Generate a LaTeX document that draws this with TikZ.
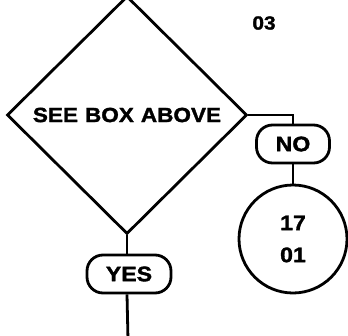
\documentclass[tikz,border=0pt]{standalone}
\usepackage{fontspec}
\newfontfamily\chartfont[FakeStretch=1.1, FakeBold=1.6]{Liberation Sans}
\newcommand\widespace{\spaceskip=7pt\relax}
\usetikzlibrary{shapes.geometric, positioning, calc}
\tikzset{
  decision/.style={draw, diamond, line width=2.8pt, minimum width=240pt, minimum height=238pt,
                   inner sep=0pt, font=\chartfont\bfseries\fontsize{20.5}{22}\selectfont\widespace},
  answer/.style={draw, line width=2.8pt, rounded corners=16pt, minimum height=38pt,
                 inner sep=0pt, font=\chartfont\bfseries\fontsize{21}{22}\selectfont},
  sheet/.style={draw, circle, line width=2.8pt, minimum size=108pt, inner sep=0pt,
                align=center, font=\chartfont\bfseries\fontsize{21}{32}\selectfont},
  link/.style={line width=2.8pt},
}
\begin{document}
\begin{tikzpicture}[x=1pt, y=-1pt]
\useasboundingbox (0,0) rectangle (348,335);
\node[decision] (ask) at (127,115) {SEE BOX ABOVE};
\node[font=\chartfont\bfseries\fontsize{19}{20}\selectfont] (page) at (264,23) {03};
\node[answer, minimum width=73pt] (no) at (293,144) {NO};
\node[sheet] (ref) at (293,239) {17\\01};
\node[answer, minimum width=84pt] (yes) at (129,274) {YES};
\coordinate (onward) at (128,340);
% connectors
\draw[link] (ask.east) -| (no.north);
\draw[link] (no.south) -- (ref.north);
\draw[link] (ask.south) -- (ask.south |- yes.north);
\draw[link] (ask.south |- yes.south) -- (onward);
\end{tikzpicture}
\end{document}
